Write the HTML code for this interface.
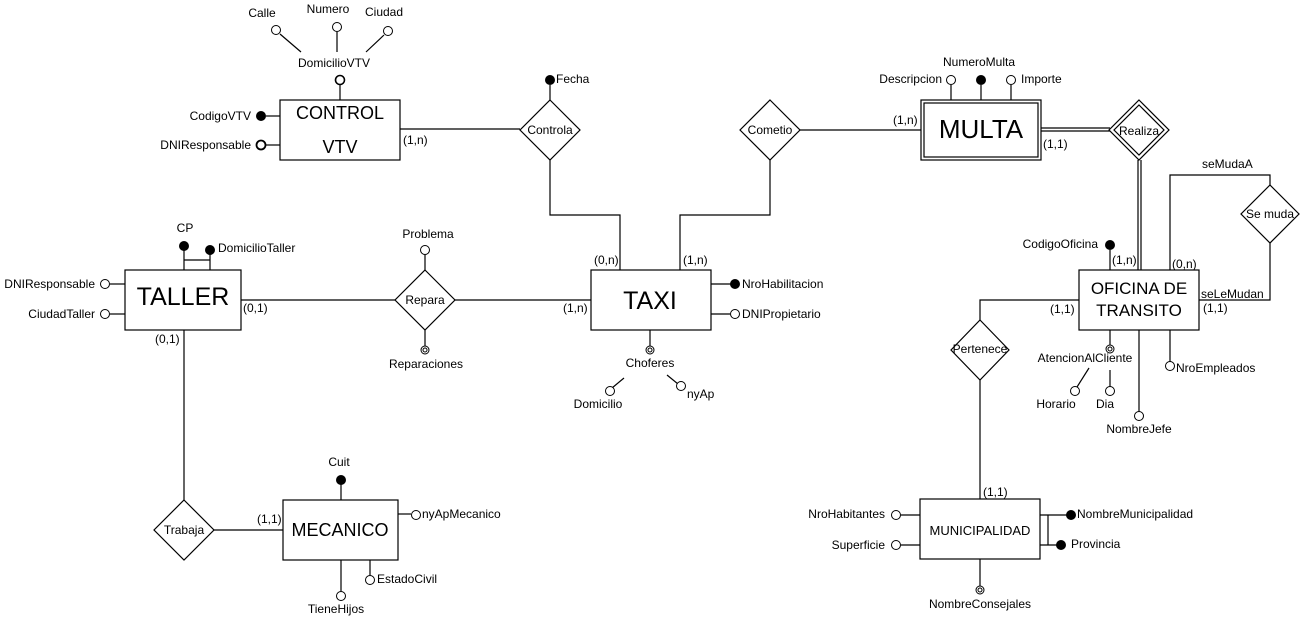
<!DOCTYPE html>
<html><head><meta charset="utf-8"><style>
html,body{margin:0;padding:0;background:#fff;width:1302px;height:624px;overflow:hidden}
svg text{font-family:"Liberation Sans",Arial,sans-serif;fill:#000}
</style></head><body>
<svg width="1302" height="624" viewBox="0 0 1302 624" xmlns="http://www.w3.org/2000/svg">
<g stroke="#000" stroke-width="1.2" fill="none">
<!-- CONTROL VTV -->
<rect x="280" y="100" width="120" height="60" fill="#fff"/>
<line x1="340" y1="85" x2="340" y2="100"/>
<line x1="280" y1="116" x2="266" y2="116"/>
<line x1="280" y1="145" x2="266" y2="145"/>
<line x1="280" y1="34" x2="301" y2="52"/>
<line x1="337" y1="32" x2="337" y2="52"/>
<line x1="384" y1="35" x2="366" y2="52"/>
<line x1="400" y1="129" x2="520" y2="129"/>
<polygon points="550,100 580,130 550,160 520,130" fill="#fff"/>
<line x1="550" y1="85" x2="550" y2="100"/>
<polyline points="550,160 550,215 620,215 620,270"/>
<!-- Cometio -->
<polyline points="680,270 680,215 770,215 770,160"/>
<polygon points="770,100 800,130 770,160 740,130" fill="#fff"/>
<line x1="800" y1="130" x2="921" y2="130"/>
<!-- MULTA -->
<rect x="921" y="100" width="120" height="60" fill="#fff"/>
<rect x="924" y="103" width="114" height="54"/>
<line x1="951" y1="85" x2="951" y2="100"/>
<line x1="981" y1="85" x2="981" y2="100"/>
<line x1="1011" y1="85" x2="1011" y2="100"/>
<line x1="1041" y1="128" x2="1110" y2="128"/>
<line x1="1041" y1="131" x2="1110" y2="131"/>
<polygon points="1139,100 1169,130 1139,160 1109,130" fill="#fff"/>
<polygon points="1139,105 1164,130 1139,155 1114,130"/>
<line x1="1138" y1="160" x2="1138" y2="270"/>
<line x1="1141" y1="160" x2="1141" y2="270"/>
<!-- Oficina -->
<rect x="1079" y="270" width="120" height="60" fill="#fff"/>
<line x1="1110" y1="250" x2="1110" y2="270"/>
<polyline points="1170,270 1170,175 1270,175 1270,185"/>
<polygon points="1270,185 1299,214 1270,243 1241,214" fill="#fff"/>
<polyline points="1270,243 1270,300 1199,300"/>
<polyline points="1079,300 980,300 980,320"/>
<polygon points="980,320 1009,350 980,380 951,350" fill="#fff"/>
<line x1="980" y1="380" x2="980" y2="499"/>
<line x1="1110" y1="330" x2="1110" y2="345"/>
<line x1="1089" y1="368" x2="1077" y2="387"/>
<line x1="1110" y1="370" x2="1110" y2="387"/>
<line x1="1139" y1="330" x2="1139" y2="412"/>
<line x1="1170" y1="330" x2="1170" y2="362"/>
<!-- Municipalidad -->
<rect x="920" y="499" width="120" height="60" fill="#fff"/>
<line x1="901" y1="515" x2="920" y2="515"/>
<line x1="901" y1="545" x2="920" y2="545"/>
<line x1="1040" y1="515" x2="1067" y2="515"/>
<line x1="1040" y1="545" x2="1057" y2="545"/>
<line x1="1048" y1="515" x2="1048" y2="545"/>
<line x1="980" y1="559" x2="980" y2="586"/>
<!-- TAXI -->
<rect x="591" y="270" width="120" height="60" fill="#fff"/>
<line x1="711" y1="284" x2="731" y2="284"/>
<line x1="711" y1="314" x2="730" y2="314"/>
<line x1="650" y1="330" x2="650" y2="346"/>
<line x1="624" y1="378" x2="612" y2="388"/>
<line x1="667" y1="375" x2="678" y2="384"/>
<!-- Repara -->
<line x1="241" y1="300" x2="396" y2="300"/>
<polygon points="425,270 455,300 425,330 395,300" fill="#fff"/>
<line x1="455" y1="300" x2="591" y2="300"/>
<line x1="425" y1="255" x2="425" y2="270"/>
<line x1="425" y1="330" x2="425" y2="346"/>
<!-- TALLER -->
<rect x="125" y="270" width="116" height="60" fill="#fff"/>
<line x1="184" y1="250" x2="184" y2="270"/>
<line x1="210" y1="254" x2="210" y2="270"/>
<line x1="184" y1="260" x2="210" y2="260"/>
<line x1="125" y1="284" x2="110" y2="284"/>
<line x1="125" y1="314" x2="110" y2="314"/>
<line x1="184" y1="330" x2="184" y2="500"/>
<polygon points="184,500 214,530 184,560 154,530" fill="#fff"/>
<line x1="214" y1="530" x2="283" y2="530"/>
<!-- MECANICO -->
<rect x="283" y="500" width="115" height="60" fill="#fff"/>
<line x1="341" y1="484" x2="341" y2="500"/>
<line x1="398" y1="514" x2="411" y2="514"/>
<line x1="370" y1="560" x2="370" y2="575"/>
<line x1="341" y1="560" x2="341" y2="591"/>
</g>
<!-- circles -->
<g stroke="#000" stroke-width="1" fill="#fff">
<circle cx="276" cy="30" r="4.5"/><circle cx="337" cy="27" r="4.5"/><circle cx="388" cy="31" r="4.5"/>
<circle cx="340" cy="80" r="4.5" stroke-width="1.6"/>
<circle cx="261" cy="145" r="4.5" stroke-width="1.8"/>
<circle cx="951" cy="80" r="4.5"/><circle cx="1011" cy="80" r="4.5"/>
<circle cx="1075" cy="391" r="4.5"/><circle cx="1110" cy="391" r="4.5"/>
<circle cx="1139" cy="416" r="4.5"/><circle cx="1170" cy="366" r="4.5"/>
<circle cx="896" cy="515" r="4.5"/><circle cx="896" cy="545" r="4.5"/>
<circle cx="735" cy="314" r="4.5"/>
<circle cx="610" cy="391" r="4.5"/><circle cx="681" cy="386" r="4.5"/>
<circle cx="425" cy="250" r="4.5"/>
<circle cx="105" cy="284" r="4.5"/><circle cx="105" cy="314" r="4.5"/>
<circle cx="416" cy="515" r="4.5"/><circle cx="370" cy="580" r="4.5"/><circle cx="341" cy="596" r="4.5"/>
<circle cx="1110" cy="349" r="4"/><circle cx="1110" cy="349" r="2"/>
<circle cx="980" cy="590" r="4"/><circle cx="980" cy="590" r="2"/>
<circle cx="650" cy="350" r="4"/><circle cx="650" cy="350" r="2"/>
<circle cx="425" cy="350" r="4"/><circle cx="425" cy="350" r="2"/>
</g>
<g fill="#000">
<circle cx="261" cy="116" r="5"/><circle cx="550" cy="80" r="5"/><circle cx="981" cy="80" r="5"/>
<circle cx="1110" cy="245" r="5"/><circle cx="1071" cy="515" r="5"/><circle cx="1061" cy="545" r="5"/>
<circle cx="735" cy="284" r="5"/><circle cx="184" cy="246" r="5"/><circle cx="210" cy="250" r="5"/>
<circle cx="341" cy="480" r="5"/>
</g>
<g font-size="12">
<text x="262" y="17" text-anchor="middle">Calle</text>
<text x="328" y="13" text-anchor="middle">Numero</text>
<text x="384" y="16" text-anchor="middle">Ciudad</text>
<text x="334" y="67" text-anchor="middle">DomicilioVTV</text>
<text x="251" y="120" text-anchor="end">CodigoVTV</text>
<text x="251" y="149" text-anchor="end">DNIResponsable</text>
<text x="403" y="144">(1,n)</text>
<text x="556" y="83">Fecha</text>
<text x="550" y="134" text-anchor="middle">Controla</text>
<text x="770" y="134" text-anchor="middle">Cometio</text>
<text x="893" y="124">(1,n)</text>
<text x="942" y="83" text-anchor="end">Descripcion</text>
<text x="979" y="66" text-anchor="middle">NumeroMulta</text>
<text x="1021" y="83">Importe</text>
<text x="1139" y="135" text-anchor="middle">Realiza</text>
<text x="1043" y="148">(1,1)</text>
<text x="1202" y="168">seMudaA</text>
<text x="1270" y="218" text-anchor="middle">Se muda</text>
<text x="1098" y="248" text-anchor="end">CodigoOficina</text>
<text x="1112" y="264">(1,n)</text>
<text x="1172" y="268">(0,n)</text>
<text x="1201" y="298">seLeMudan</text>
<text x="1203" y="312">(1,1)</text>
<text x="1050" y="313">(1,1)</text>
<text x="980" y="353" text-anchor="middle">Pertenece</text>
<text x="1085" y="362" text-anchor="middle">AtencionAlCliente</text>
<text x="1056" y="408" text-anchor="middle">Horario</text>
<text x="1105" y="408" text-anchor="middle">Dia</text>
<text x="1139" y="433" text-anchor="middle">NombreJefe</text>
<text x="1176" y="372">NroEmpleados</text>
<text x="983" y="496">(1,1)</text>
<text x="885" y="518" text-anchor="end">NroHabitantes</text>
<text x="885" y="549" text-anchor="end">Superficie</text>
<text x="1077" y="518">NombreMunicipalidad</text>
<text x="1071" y="548">Provincia</text>
<text x="980" y="608" text-anchor="middle">NombreConsejales</text>
<text x="594" y="264">(0,n)</text>
<text x="683" y="264">(1,n)</text>
<text x="742" y="288">NroHabilitacion</text>
<text x="742" y="318">DNIPropietario</text>
<text x="650" y="367" text-anchor="middle">Choferes</text>
<text x="598" y="408" text-anchor="middle">Domicilio</text>
<text x="687" y="398">nyAp</text>
<text x="563" y="312">(1,n)</text>
<text x="428" y="238" text-anchor="middle">Problema</text>
<text x="425" y="304" text-anchor="middle">Repara</text>
<text x="426" y="368" text-anchor="middle">Reparaciones</text>
<text x="243" y="312">(0,1)</text>
<text x="185" y="232" text-anchor="middle">CP</text>
<text x="218" y="252">DomicilioTaller</text>
<text x="95" y="288" text-anchor="end">DNIResponsable</text>
<text x="95" y="318" text-anchor="end">CiudadTaller</text>
<text x="155" y="343">(0,1)</text>
<text x="184" y="534" text-anchor="middle">Trabaja</text>
<text x="257" y="523">(1,1)</text>
<text x="339" y="466" text-anchor="middle">Cuit</text>
<text x="422" y="518">nyApMecanico</text>
<text x="377" y="583">EstadoCivil</text>
<text x="336" y="613" text-anchor="middle">TieneHijos</text>
</g>
<g text-anchor="middle">
<text x="340" y="119" font-size="18">CONTROL</text>
<text x="340" y="153" font-size="18">VTV</text>
<text x="981" y="138" font-size="26">MULTA</text>
<text x="1139" y="294" font-size="17">OFICINA DE</text>
<text x="1139" y="316" font-size="17">TRANSITO</text>
<text x="980" y="535" font-size="13">MUNICIPALIDAD</text>
<text x="650" y="309" font-size="25">TAXI</text>
<text x="183" y="305" font-size="25">TALLER</text>
<text x="340" y="536" font-size="18">MECANICO</text>
</g>
</svg>
</body></html>
